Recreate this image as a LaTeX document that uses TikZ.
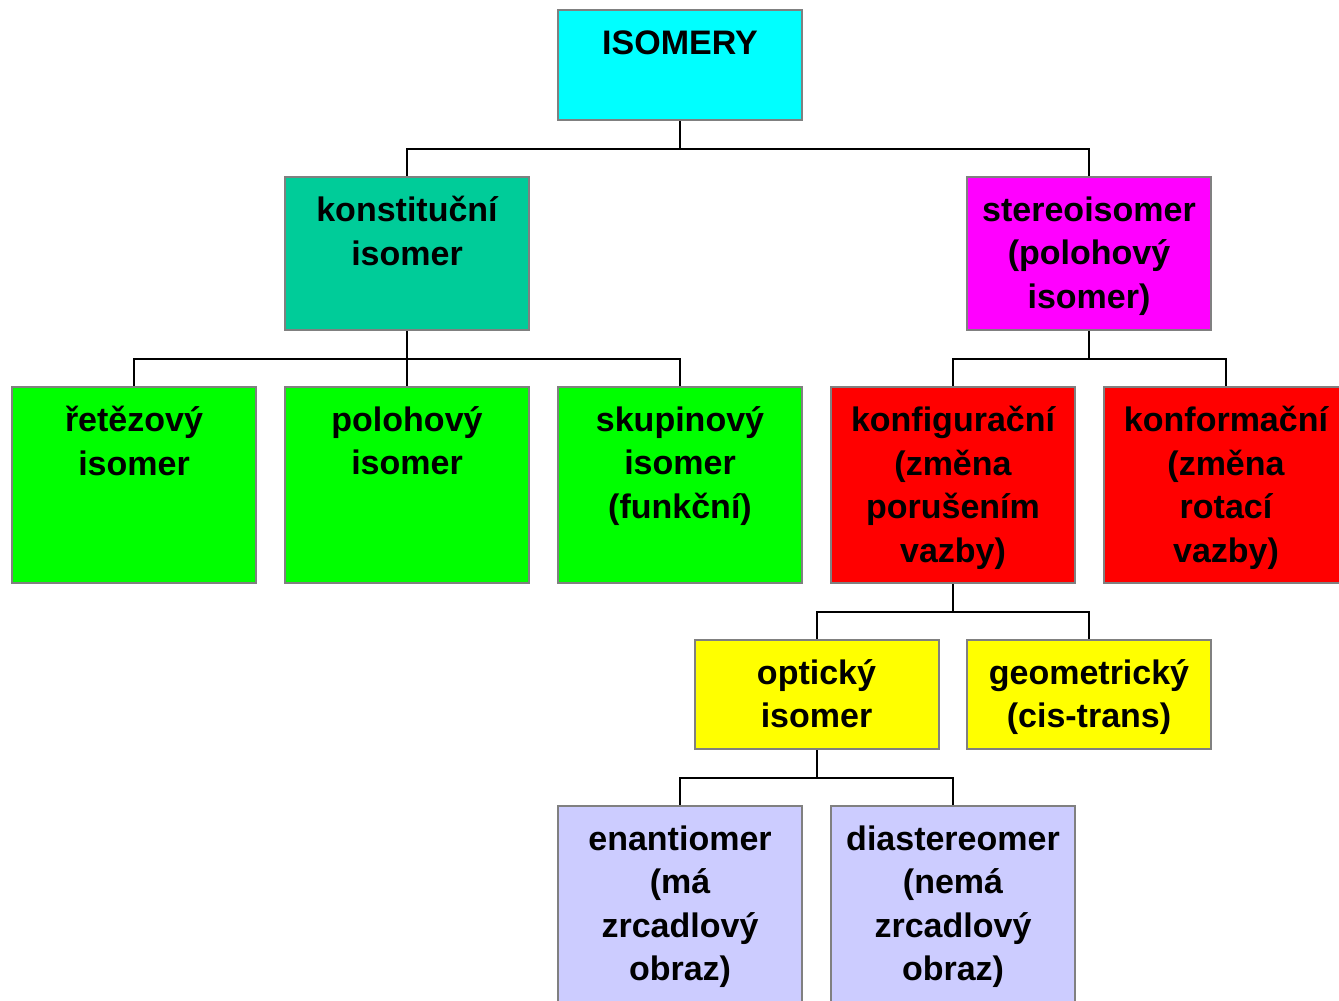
\documentclass[tikz,border=0pt]{standalone}
\usepackage{fontspec}
\setmainfont{Liberation Sans}
\definecolor{isocyan}{RGB}{0, 255, 255}
\definecolor{constteal}{RGB}{0, 204, 153}
\definecolor{stereomag}{RGB}{255, 0, 255}
\definecolor{subgreen}{RGB}{0, 255, 0}
\definecolor{confred}{RGB}{255, 0, 0}
\definecolor{optyellow}{RGB}{255, 255, 0}
\definecolor{enlav}{RGB}{204, 204, 255}
\definecolor{boxgray}{RGB}{128, 128, 128}
\usetikzlibrary{positioning}

\begin{document}
\begin{tikzpicture}[x=0.5pt, y=-0.5pt]
                % Styles
                \tikzstyle{box}=[draw=boxgray, line width=1pt, minimum width=122pt, inner sep=0pt]
                \tikzstyle{txt}=[anchor=north, align=center, inner sep=0pt, font=\fontsize{17pt}{21.75pt}\selectfont\bfseries, execute at begin node=\strut]
                \tikzstyle{link}=[line width=1pt]

                \clip (0,0) rectangle (1339,1001);

                % Top
                \node[box, fill=isocyan, minimum height=55pt] (iso) at (680,65) {};
                \node[txt, below=7.2pt of iso.north] (iso-t) {ISOMERY};

                % Second row
                \node[box, fill=constteal, minimum height=76.5pt] (konst) at (407,253.5) {};
                \node[txt, below=10pt of konst.north] (konst-t) {konstituční\\isomer};
                \node[box, fill=stereomag, minimum height=76.5pt] (stereo) at (1089,253.5) {};
                \node[txt, below=10pt of stereo.north] (stereo-t) {stereoisomer\\(polohový\\isomer)};

                % Third row
                \node[box, fill=subgreen, minimum height=98pt] (retez) at (134,485) {};
                \node[txt, below=10pt of retez.north] (retez-t) {řetězový\\isomer};
                \node[box, fill=subgreen, minimum height=98pt] (poloh) at (407,485) {};
                \node[txt, below=10pt of poloh.north] (poloh-t) {polohový\\isomer};
                \node[box, fill=subgreen, minimum height=98pt] (skup) at (680,485) {};
                \node[txt, below=10pt of skup.north] (skup-t) {skupinový\\isomer\\(funkční)};
                \node[box, fill=confred, minimum height=98pt] (konfig) at (953,485) {};
                \node[txt, below=10pt of konfig.north] (konfig-t) {konfigurační\\(změna\\porušením\\vazby)};
                \node[box, fill=confred, minimum height=98pt] (konform) at (1226,485) {};
                \node[txt, below=10pt of konform.north] (konform-t) {konformační\\(změna\\rotací\\vazby)};

                % Fourth row
                \node[box, fill=optyellow, minimum height=54.5pt] (opt) at (816.5,694.5) {};
                \node[txt, below=10pt of opt.north] (opt-t) {optický\\isomer};
                \node[box, fill=optyellow, minimum height=54.5pt] (geom) at (1089,694.5) {};
                \node[txt, below=10pt of geom.north] (geom-t) {geometrický\\(cis-trans)};

                % Bottom row
                \node[box, fill=enlav, minimum height=98pt] (enant) at (680,904) {};
                \node[txt, below=10pt of enant.north] (enant-t) {enantiomer\\(má\\zrcadlový\\obraz)};
                \node[box, fill=enlav, minimum height=98pt] (diast) at (953,904) {};
                \node[txt, below=10pt of diast.north] (diast-t) {diastereomer\\(nemá\\zrcadlový\\obraz)};

                % Links
                \draw[link] (iso.south) -- ++(0,28) -| (konst.north);
                \draw[link] (iso.south) -- ++(0,28) -| (stereo.north);
                \draw[link] (konst.south) -- ++(0,28) -| (retez.north);
                \draw[link] (konst.south) -- ++(0,28) -| (poloh.north);
                \draw[link] (konst.south) -- ++(0,28) -| (skup.north);
                \draw[link] (stereo.south) -- ++(0,28) -| (konfig.north);
                \draw[link] (stereo.south) -- ++(0,28) -| (konform.north);
                \draw[link] (konfig.south) -- ++(0,28) -| (opt.north);
                \draw[link] (konfig.south) -- ++(0,28) -| (geom.north);
                \draw[link] (opt.south) -- ++(0,28) -| (enant.north);
                \draw[link] (opt.south) -- ++(0,28) -| (diast.north);
            \end{tikzpicture}
\end{document}
